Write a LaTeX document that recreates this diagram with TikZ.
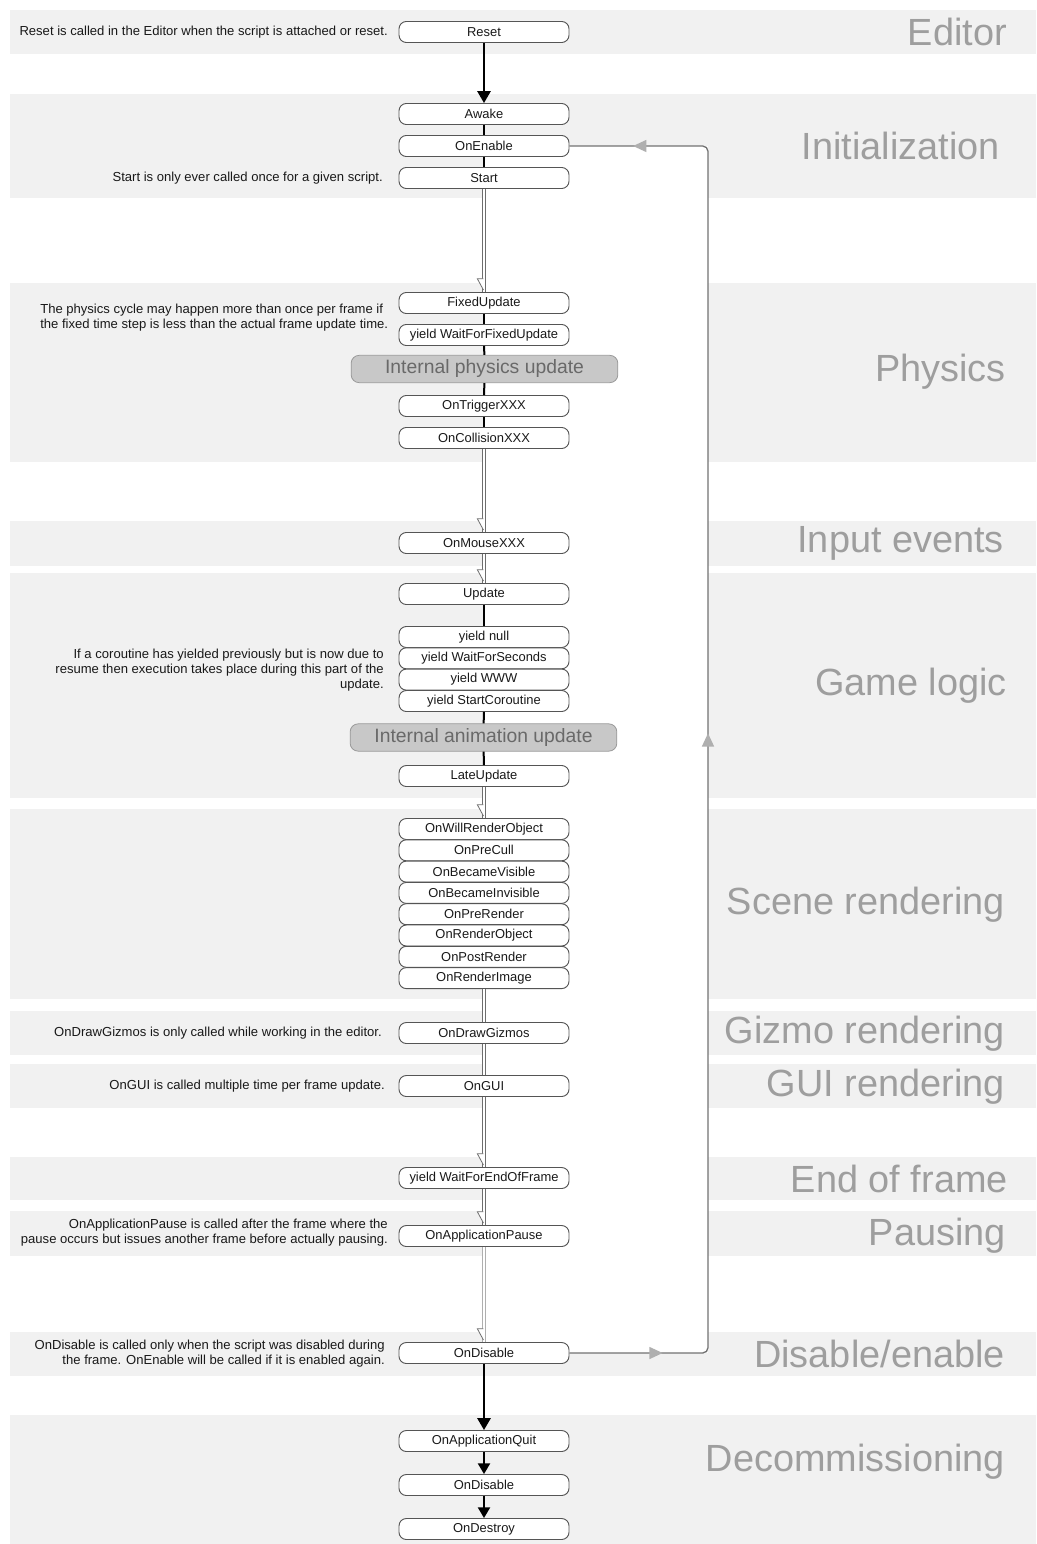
\documentclass[tikz,border=0pt]{standalone}
\usepackage{fontspec}
\setmainfont{Liberation Sans}
\usetikzlibrary{arrows.meta,decorations.markings}

\definecolor{band}{RGB}{241,241,241}
\definecolor{ttlc}{RGB}{158,158,158}
\definecolor{edge}{RGB}{85,85,85}
\definecolor{intfill}{RGB}{200,200,200}
\definecolor{inttext}{RGB}{105,105,105}
\definecolor{loopc}{RGB}{115,115,115}
\definecolor{loophead}{RGB}{175,175,175}
\definecolor{desc}{RGB}{25,25,25}
\definecolor{dblc}{RGB}{110,110,110}

\begin{document}
\begin{tikzpicture}[x=0.75pt,y=-0.75pt,
  fn/.style={draw=edge, fill=white, rounded corners=5.5pt, minimum width=127.5pt, minimum height=15.75pt, inner sep=0pt, line width=0.7pt, font=\fontsize{9.7}{10}\selectfont, text=desc},
  ib/.style={draw=edge!60, fill=intfill, rounded corners=6pt, minimum width=200pt, minimum height=20.5pt, inner sep=0pt, line width=0.6pt, font=\fontsize{14.5}{16}\selectfont, text=inttext},
  ttl/.style={anchor=east, text=ttlc, font=\fontsize{28.4}{30}\selectfont, inner sep=0pt},
  dsc/.style={anchor=east, align=right, text=desc, font=\fontsize{9.8}{11.25}\selectfont, inner sep=0pt},
  blk/.style={line width=1.5pt, black},
  bigarrow/.style={line width=1.5pt, black, -{Triangle[width=10pt,length=9pt]}},
  smallarrow/.style={line width=1.5pt, black, -{Triangle[width=9pt,length=8pt]}},
  dbl/.style={draw=dblc, line width=2.3pt, postaction={draw=white, line width=0.9pt}},
  dbllight/.style={draw=dblc!55, line width=2.3pt, postaction={draw=white, line width=0.9pt}},
  notch/.style={postaction={decorate}, decoration={markings, mark=at position 1 with {\filldraw[draw=dblc, fill=white, line width=0.6pt] (-10pt,-0.4pt) -- (-10pt,-5pt) -- (-1.5pt,-0.4pt);}}},
]
\useasboundingbox (0,0) rectangle (1036,1544);
\fill[white] (0,0) rectangle (1036,1544);

% bands
\fill[band] (10,10) rectangle (1036,54);
\fill[band] (10,94) rectangle (1036,198);
\fill[band] (10,283) rectangle (1036,462);
\fill[band] (10,521) rectangle (1036,566);
\fill[band] (10,573) rectangle (1036,798);
\fill[band] (10,809) rectangle (1036,999);
\fill[band] (10,1011) rectangle (1036,1055);
\fill[band] (10,1064) rectangle (1036,1108);
\fill[band] (10,1157) rectangle (1036,1200);
\fill[band] (10,1211) rectangle (1036,1256);
\fill[band] (10,1332) rectangle (1036,1376);
\fill[band] (10,1415) rectangle (1036,1544);
% inside of the loop
\fill[white] (484,146) rectangle (708,1353);

% titles
\node[ttl] (tEditor) at (1007,32) {Editor};
\node[ttl] (tInit) at (1000,146) {Initialization};
\node[ttl] (tPhys) at (1006,372) {Physics};
\node[ttl] (tInput) at (1004,543) {Input events};
\node[ttl] (tGame) at (1007,686) {Game logic};
\node[ttl] (tScene) at (1005,905) {Scene rendering};
\node[ttl] (tGizmo) at (1005,1034) {Gizmo rendering};
\node[ttl] (tGUI) at (1005,1087) {GUI rendering};
\node[ttl] (tEnd) at (1008,1179) {End of frame};
\node[ttl] (tPause) at (1006,1236) {Pausing};
\node[ttl] (tDis) at (1005,1354) {Disable/enable};
\node[ttl] (tDecom) at (1005,1462) {Decommissioning};

% descriptions
\node[dsc] (dReset) at (388,32) {Reset is called in the Editor when the script is attached or reset.};
\node[dsc] (dStart) at (383,178) {Start is only ever called once for a given script.};
\node[dsc, anchor=west, align=left] (dPhys) at (40,318) {The physics cycle may happen more than once per frame if\\the fixed time step is less than the actual frame update time.};
\node[dsc] (dCo) at (384,670) {If a coroutine has yielded previously but is now due to\\resume then execution takes place during this part of the\\update.};
\node[dsc] (dGizmo) at (382,1033) {OnDrawGizmos is only called while working in the editor.};
\node[dsc] (dGUI) at (385,1086) {OnGUI is called multiple time per frame update.};
\node[dsc] (dPause) at (388,1233) {OnApplicationPause is called after the frame where the\\pause occurs but issues another frame before actually pausing.};
\node[dsc] (dDis) at (385,1354) {OnDisable is called only when the script was disabled during\\the frame. OnEnable will be called if it is enabled again.};

% nodes
\node[fn] (reset) at (484,32) {Reset};
\node[fn] (awake) at (484,114) {Awake};
\node[fn] (onenable) at (484,146) {OnEnable};
\node[fn] (start) at (484,178) {Start};
\node[fn] (fixed) at (484,303) {FixedUpdate};
\node[fn] (wffu) at (484,335) {yield WaitForFixedUpdate};
\node[ib] (iphys) at (484.5,369) {Internal physics update};
\node[fn] (trig) at (484,406) {OnTriggerXXX};
\node[fn] (coll) at (484,438) {OnCollisionXXX};
\node[fn] (mouse) at (484,543) {OnMouseXXX};
\node[fn] (update) at (484,594) {Update};
\node[fn] (ynull) at (484,637) {yield null};
\node[fn] (ywfs) at (484,658.3) {yield WaitForSeconds};
\node[fn] (ywww) at (484,679.6) {yield WWW};
\node[fn] (ysc) at (484,701) {yield StartCoroutine};
\node[ib] (ianim) at (483.5,737.5) {Internal animation update};
\node[fn] (late) at (484,776) {LateUpdate};
\node[fn] (wro) at (484,829) {OnWillRenderObject};
\node[fn] (precull) at (484,850.3) {OnPreCull};
\node[fn] (bvis) at (484,871.6) {OnBecameVisible};
\node[fn] (binv) at (484,892.9) {OnBecameInvisible};
\node[fn] (prerender) at (484,914.2) {OnPreRender};
\node[fn] (renderobj) at (484,935.5) {OnRenderObject};
\node[fn] (postrender) at (484,956.8) {OnPostRender};
\node[fn] (renderimg) at (484,978.1) {OnRenderImage};
\node[fn] (gizmos) at (484,1033) {OnDrawGizmos};
\node[fn] (gui) at (484,1086) {OnGUI};
\node[fn] (weof) at (484,1178) {yield WaitForEndOfFrame};
\node[fn] (pause) at (484,1236) {OnApplicationPause};
\node[fn] (disable) at (484,1353) {OnDisable};
\node[fn] (quit) at (484,1441) {OnApplicationQuit};
\node[fn] (disable2) at (484,1485) {OnDisable};
\node[fn] (destroy) at (484,1529) {OnDestroy};

% black links
\draw[bigarrow] (reset) -- (awake);
\draw[blk] (awake) -- (onenable);
\draw[blk] (onenable) -- (start);
\draw[blk] (fixed) -- (wffu);
\draw[blk] (wffu) -- (iphys);
\draw[blk] (iphys) -- (trig);
\draw[blk] (trig) -- (coll);
\draw[blk] (update) -- (ynull);
\draw[blk] (ysc) -- (ianim);
\draw[blk] (ianim) -- (late);
\draw[bigarrow] (disable) -- (quit);
\draw[smallarrow] (quit) -- (disable2);
\draw[smallarrow] (disable2) -- (destroy);

% double (hollow) links with notch
\draw[dbl] (start) -- (fixed);  \path[notch] (start) -- (fixed);
\draw[dbl] (coll) -- (mouse);   \path[notch] (coll) -- (mouse);
\draw[dbl] (mouse) -- (update); \path[notch] (mouse) -- (update);
\draw[dbl] (late) -- (wro);     \path[notch] (late) -- (wro);
\draw[dbl] (renderimg) -- (gizmos);
\draw[dbl] (gizmos) -- (gui);
\draw[dbl] (gui) -- (weof);     \path[notch] (gui) -- (weof);
\draw[dbl] (weof) -- (pause);   \path[notch] (weof) -- (pause);
\draw[dbllight] (pause) -- (disable); \path[notch] (pause) -- (disable);

% loop back from OnDisable to OnEnable
\draw[loopc, line width=1pt, rounded corners=4pt,
  postaction={decorate},
  decoration={markings,
    mark=at position 0.063 with {\arrow{Triangle[width=9pt,length=10pt,color=loophead]}},
    mark=at position 0.511 with {\arrow{Triangle[width=9pt,length=10pt,color=loophead]}},
    mark=at position 0.957 with {\arrow{Triangle[width=9pt,length=10pt,color=loophead]}}}]
  (disable.east) -| (708,146) -- (onenable.east);
\end{tikzpicture}
\end{document}
